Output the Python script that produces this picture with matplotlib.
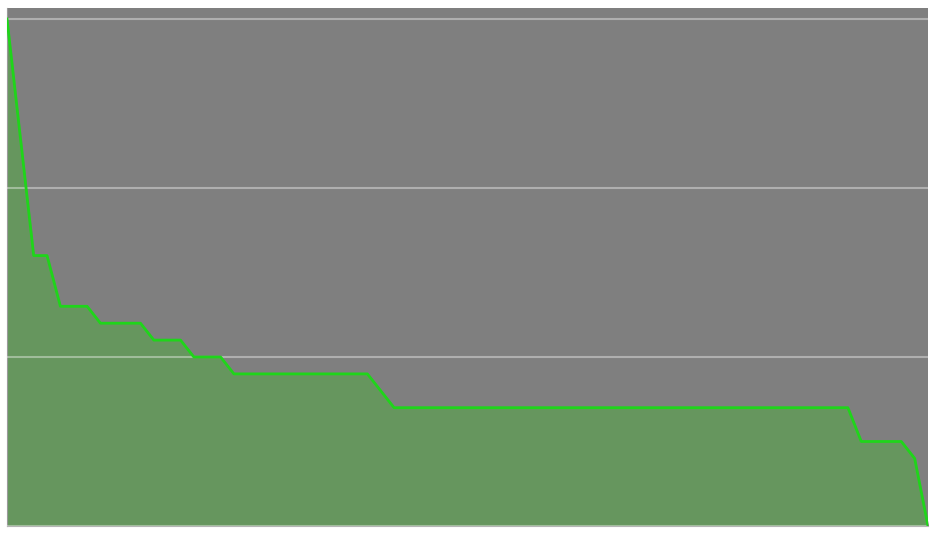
import numpy as np
import matplotlib
matplotlib.use('Agg')
import matplotlib.pyplot as plt

# step values, one per position
positions = list(range(70))
values = ([3.0, 2.3] + [1.6] * 2 + [1.3] * 3 + [1.2] * 4 + [1.1] * 3 + [1.0] * 3
          + [0.9] * 11 + [0.8] + [0.7] * 35 + [0.5] * 4 + [0.4] + [0.0])
y_ticks = [0, 1, 2, 3]

fig = plt.figure(figsize=(9.39, 5.35), dpi=100)
ax = fig.add_axes([7 / 939, 9 / 535, 921 / 939, 518 / 535])
ax.set_facecolor('#7f7f7f')

ax.fill_between(positions, values, 0, color='#66965e', zorder=2)
ax.plot(positions, values, color='#1fd51a', linewidth=2, zorder=4)

ax.set_xlim(0, len(positions) - 1)
ax.set_ylim(0, 3.065)
ax.set_yticks(y_ticks)
ax.set_xticks([])
ax.set_axisbelow(False)
ax.yaxis.grid(True, color='white', alpha=0.38, linewidth=1.5)
for gl in ax.get_ygridlines():
    gl.set_zorder(3)
ax.tick_params(left=False, labelleft=False)
for side in ['top', 'right']:
    ax.spines[side].set_visible(False)
ax.spines['left'].set_color('#9a9a9a')
ax.spines['bottom'].set_color('#b5b5b5')

fig.savefig('out.png', dpi=100)
